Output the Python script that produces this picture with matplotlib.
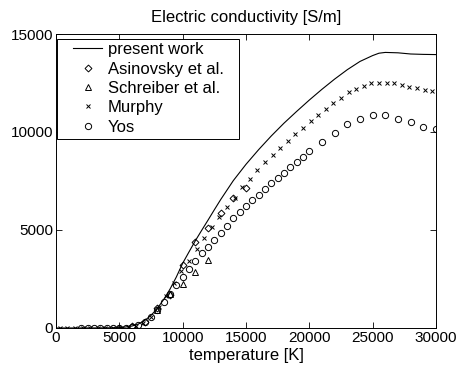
import matplotlib
matplotlib.use("Agg")
import matplotlib.pyplot as plt
from matplotlib.patches import Rectangle

plt.rcParams['font.family'] = ['Liberation Sans', 'DejaVu Sans']

# present work (solid line)
t_present = [0, 1000, 2000, 3000, 4000, 5000, 5500, 6000, 6500, 7000, 7500, 8000,
             8500, 9000, 9500, 10000, 10500, 11000, 11500, 12000, 12500, 13000,
             14000, 15000, 16000, 17000, 18000, 19000, 20000, 21000, 22000, 23000,
             24000, 25000, 25500, 26000, 27000, 28000, 29000, 30000]
s_present = [0, 0, 0, 2, 5, 20, 50, 100, 200, 380, 640, 1000,
             1450, 1980, 2600, 3300, 3880, 4450, 4980, 5500, 6030, 6550,
             7520, 8350, 9100, 9800, 10450, 11050, 11630, 12180, 12700, 13180,
             13600, 13900, 14020, 14060, 14040, 13980, 13960, 13950]

# Asinovsky et al.
t_asin = [5000, 6000, 7000, 8000, 9000, 10000, 11000, 12000, 13000, 14000, 15000]
s_asin = [20, 100, 330, 1000, 1700, 3210, 4400, 5120, 5850, 6620, 7160]

# Schreiber et al.
t_schr = [8000, 9000, 10000, 11000, 12000]
s_schr = [900, 1750, 2240, 2840, 3470]

# Murphy
t_murphy = [300, 900, 1500, 2100, 2700, 3300, 3900, 4500, 5100, 5700, 6300, 6900,
            7500, 8100, 8700, 9300, 9900, 10500, 11100, 11700, 12300, 12900, 13500,
            14100, 14700, 15300, 15900, 16500, 17100, 17700, 18300, 18900, 19500,
            20100, 20700, 21300, 21900, 22500, 23100, 23700, 24300, 24900, 25500,
            26100, 26700, 27300, 27900, 28500, 29100, 29700]
s_murphy = [0, 0, 0, 0, 0, 0, 0, 5, 15, 40, 110, 280,
            580, 1050, 1650, 2300, 2900, 3420, 4030, 4610, 5150, 5680, 6190,
            6620, 7180, 7600, 8060, 8450, 8810, 9170, 9540, 9880, 10190,
            10560, 10850, 11160, 11460, 11750, 12030, 12210, 12370, 12490, 12520,
            12520, 12490, 12400, 12310, 12240, 12140, 12090]

# Yos
t_yos = [2000, 2500, 3000, 3500, 4000, 4500, 5000, 5500, 6000, 6500, 7000, 7500,
         8000, 8500, 9000, 9500, 10000, 10500, 11000, 11500, 12000, 12500, 13000,
         13500, 14000, 14500, 15000, 15500, 16000, 16500, 17000, 17500, 18000,
         18500, 19000, 19500, 20000, 21000, 22000, 23000, 24000, 25000, 26000,
         27000, 28000, 29000, 30000]
s_yos = [0, 0, 0, 0, 0, 5, 10, 25, 60, 150, 330, 580,
         900, 1310, 1750, 2200, 2600, 3000, 3400, 3810, 4150, 4490, 4830,
         5200, 5600, 5920, 6220, 6530, 6800, 7080, 7380, 7670, 7920,
         8200, 8470, 8740, 9010, 9510, 9970, 10390, 10660, 10870, 10870,
         10680, 10490, 10270, 10150]

fig = plt.figure(figsize=(4.57, 3.72), dpi=100)
ax = fig.add_axes([0.1225, 0.1183, 0.8315, 0.7903])

ax.plot(t_present, s_present, 'k-', lw=0.8, label='present work')
ax.plot(t_asin, s_asin, 'D', mfc='none', mec='k', ms=3.5, mew=0.7, ls='none', label='Asinovsky et al.')
ax.plot(t_schr, s_schr, '^', mfc='none', mec='k', ms=4.5, mew=0.7, ls='none', label='Schreiber et al.')
ax.plot(t_murphy, s_murphy, 'x', color='k', ms=3, mew=0.7, ls='none', label='Murphy')
ax.plot(t_yos, s_yos, 'o', mfc='none', mec='k', ms=4.5, mew=0.7, ls='none', label='Yos')

ax.set_xlim(0, 30000)
ax.set_ylim(0, 15000)
ax.set_xticks([0, 5000, 10000, 15000, 20000, 25000, 30000])
ax.set_yticks([0, 5000, 10000, 15000])
ax.tick_params(direction='in', top=True, right=True, labelsize=11, length=4, width=0.6, pad=2)
for sp in ax.spines.values():
    sp.set_linewidth(0.7)

ax.set_xlabel('temperature [K]', fontsize=12, labelpad=2)
ax.set_title('Electric conductivity [S/m]', fontsize=12, pad=9)

# legend box drawn separately (wider left margin than matplotlib's padding)
box = Rectangle((0.003, 0.643), 0.479, 0.340, transform=ax.transAxes,
                facecolor='white', edgecolor='k', lw=0.7, zorder=4)
ax.add_patch(box)
leg = ax.legend(loc='upper left', bbox_to_anchor=(0.045, 0.972), fontsize=12,
                frameon=False, borderaxespad=0, borderpad=0, handlelength=1.75,
                labelspacing=0.26, handletextpad=0.35)
leg.set_zorder(5)

fig.savefig('out.png', dpi=100)
